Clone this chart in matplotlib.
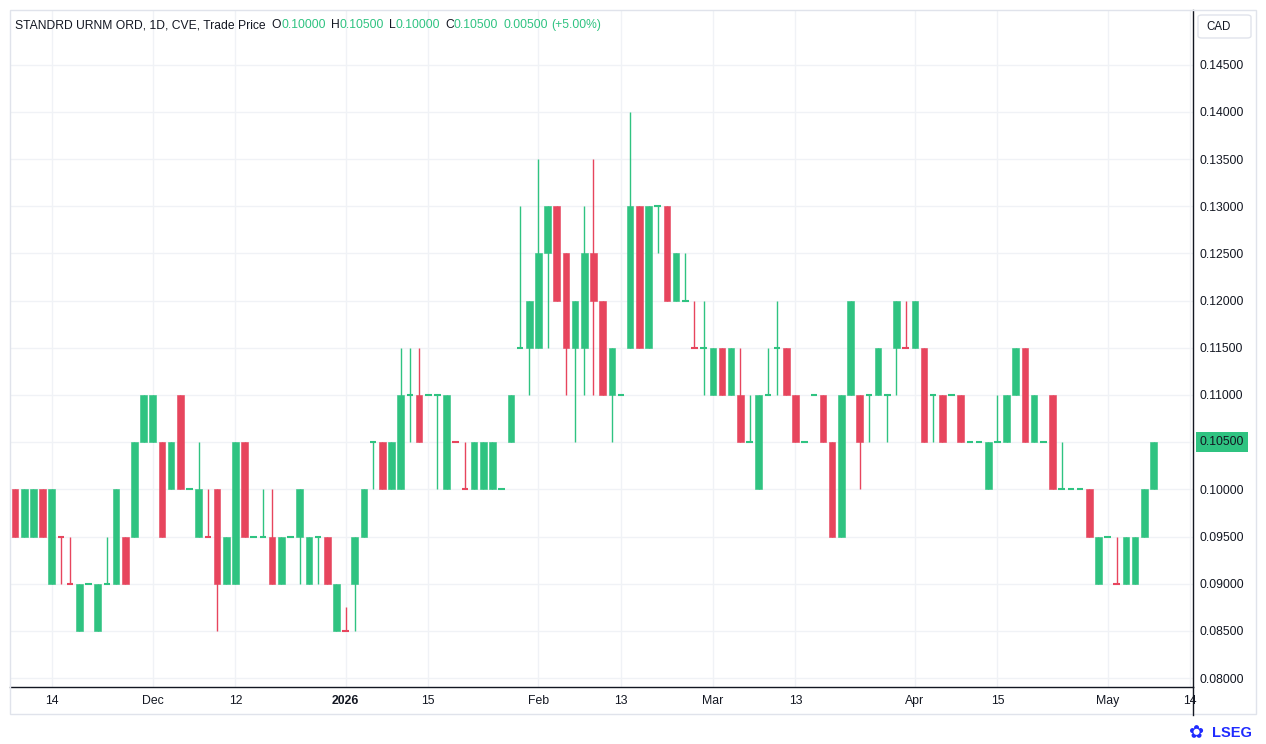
import numpy as np
import matplotlib.pyplot as plt
import matplotlib.transforms as mtransforms
from matplotlib.patches import Rectangle, FancyBboxPatch
from matplotlib.lines import Line2D

plt.rcParams['font.family'] = ['Liberation Sans', 'DejaVu Sans']

# daily OHLC, 10 Nov 2025 .. 8 May 2026 (trading days)
opens = [0.100, 0.095, 0.095, 0.100, 0.090, 0.095, 0.090, 0.085, 0.090, 0.085,
         0.090, 0.090, 0.095, 0.095, 0.105, 0.105, 0.105, 0.100, 0.110, 0.100,
         0.095, 0.095, 0.100, 0.090, 0.090, 0.105, 0.095, 0.095, 0.095, 0.090,
         0.095, 0.095, 0.090, 0.095, 0.095, 0.085, 0.085, 0.090, 0.095, 0.105,
         0.105, 0.100, 0.100, 0.110, 0.110, 0.110, 0.110, 0.100, 0.105, 0.100,
         0.100, 0.100, 0.100, 0.100, 0.105, 0.115, 0.115, 0.115, 0.125, 0.130,
         0.125, 0.115, 0.115, 0.125, 0.120, 0.110, 0.110, 0.115, 0.130, 0.115,
         0.130, 0.130, 0.120, 0.120, 0.115, 0.115, 0.110, 0.115, 0.110, 0.110,
         0.105, 0.100, 0.110, 0.115, 0.115, 0.110, 0.105, 0.110, 0.110, 0.105,
         0.095, 0.110, 0.110, 0.110, 0.110, 0.110, 0.115, 0.115, 0.115, 0.115,
         0.110, 0.110, 0.110, 0.110, 0.105, 0.105, 0.100, 0.105, 0.105, 0.110,
         0.115, 0.105, 0.105, 0.110, 0.100, 0.100, 0.100, 0.100, 0.090, 0.095,
         0.090, 0.090, 0.090, 0.095, 0.100]
highs = [0.100, 0.100, 0.100, 0.100, 0.100, 0.095, 0.095, 0.090, 0.090, 0.090,
         0.095, 0.100, 0.095, 0.105, 0.110, 0.110, 0.105, 0.105, 0.110, 0.100,
         0.105, 0.100, 0.100, 0.095, 0.105, 0.105, 0.095, 0.100, 0.100, 0.095,
         0.095, 0.100, 0.095, 0.095, 0.095, 0.090, 0.0875, 0.095, 0.100, 0.105,
         0.105, 0.105, 0.115, 0.115, 0.115, 0.110, 0.110, 0.110, 0.105, 0.105,
         0.105, 0.105, 0.105, 0.100, 0.110, 0.130, 0.120, 0.135, 0.130, 0.130,
         0.125, 0.120, 0.130, 0.135, 0.120, 0.115, 0.110, 0.140, 0.130, 0.130,
         0.130, 0.130, 0.125, 0.125, 0.120, 0.120, 0.115, 0.115, 0.115, 0.115,
         0.110, 0.110, 0.115, 0.120, 0.115, 0.110, 0.105, 0.110, 0.110, 0.105,
         0.110, 0.120, 0.110, 0.110, 0.115, 0.110, 0.120, 0.120, 0.120, 0.115,
         0.110, 0.110, 0.110, 0.110, 0.105, 0.105, 0.105, 0.110, 0.110, 0.115,
         0.115, 0.110, 0.105, 0.110, 0.105, 0.100, 0.100, 0.100, 0.095, 0.095,
         0.095, 0.095, 0.095, 0.100, 0.105]
lows = [0.095, 0.095, 0.095, 0.095, 0.090, 0.090, 0.090, 0.085, 0.090, 0.085,
        0.090, 0.090, 0.090, 0.095, 0.105, 0.105, 0.095, 0.100, 0.100, 0.100,
        0.095, 0.095, 0.085, 0.090, 0.090, 0.095, 0.095, 0.095, 0.090, 0.090,
        0.095, 0.090, 0.090, 0.090, 0.090, 0.085, 0.085, 0.085, 0.095, 0.100,
        0.100, 0.100, 0.100, 0.105, 0.105, 0.110, 0.100, 0.100, 0.105, 0.100,
        0.100, 0.100, 0.100, 0.100, 0.105, 0.115, 0.110, 0.115, 0.115, 0.120,
        0.110, 0.105, 0.110, 0.110, 0.110, 0.105, 0.110, 0.115, 0.115, 0.115,
        0.125, 0.120, 0.120, 0.120, 0.115, 0.110, 0.110, 0.110, 0.110, 0.105,
        0.105, 0.100, 0.110, 0.110, 0.110, 0.105, 0.105, 0.110, 0.105, 0.095,
        0.095, 0.110, 0.100, 0.105, 0.110, 0.105, 0.110, 0.115, 0.115, 0.105,
        0.105, 0.105, 0.110, 0.105, 0.105, 0.105, 0.100, 0.105, 0.105, 0.110,
        0.105, 0.105, 0.105, 0.100, 0.100, 0.100, 0.100, 0.095, 0.090, 0.095,
        0.090, 0.090, 0.090, 0.095, 0.100]
closes = [0.095, 0.100, 0.100, 0.095, 0.100, 0.095, 0.090, 0.090, 0.090, 0.090,
          0.090, 0.100, 0.090, 0.105, 0.110, 0.110, 0.095, 0.105, 0.100, 0.100,
          0.100, 0.095, 0.090, 0.095, 0.105, 0.095, 0.095, 0.095, 0.090, 0.095,
          0.095, 0.100, 0.095, 0.095, 0.090, 0.090, 0.085, 0.095, 0.100, 0.105,
          0.100, 0.105, 0.110, 0.110, 0.105, 0.110, 0.110, 0.110, 0.105, 0.100,
          0.105, 0.105, 0.105, 0.100, 0.110, 0.115, 0.120, 0.125, 0.130, 0.120,
          0.115, 0.120, 0.125, 0.120, 0.110, 0.115, 0.110, 0.130, 0.115, 0.130,
          0.130, 0.120, 0.125, 0.120, 0.115, 0.115, 0.115, 0.110, 0.115, 0.105,
          0.105, 0.110, 0.110, 0.115, 0.110, 0.105, 0.105, 0.110, 0.105, 0.095,
          0.110, 0.120, 0.105, 0.110, 0.115, 0.110, 0.120, 0.115, 0.120, 0.105,
          0.110, 0.105, 0.110, 0.105, 0.105, 0.105, 0.105, 0.105, 0.110, 0.115,
          0.105, 0.110, 0.105, 0.100, 0.100, 0.100, 0.100, 0.095, 0.095, 0.095,
          0.090, 0.095, 0.095, 0.100, 0.105]
# flat candles (open == close) that are drawn red
red_flat = [5, 6, 21, 36, 48, 49, 74, 97, 120]

tick_idx = [4, 15, 24, 36, 45, 57, 66, 76, 85, 98, 107, 119, 128]
tick_lab = ["14", "Dec", "12", "2026", "15", "Feb", "13", "Mar", "13",
            "Apr", "15", "May", "14"]
price_ticks = np.arange(0.080, 0.1451, 0.005)

green = '#2fc381'
red = '#e7455d'
dark = '#131722'
grid = '#f0f2f6'

W, H = 1266, 744
fig = plt.figure(figsize=(W / 100, H / 100), dpi=100)
ax = fig.add_axes([10 / W, 57 / H, 1183 / W, 677 / H])

o = np.array(opens)
hi = np.array(highs)
lo = np.array(lows)
c = np.array(closes)
x = np.arange(len(o))
up = c > o
flat = c == o
cols = np.where(up, green, red).astype(object)
for i in np.where(flat)[0]:
    cols[i] = red if i in red_flat else green

bw = 0.72
ax.vlines(x, lo, hi, colors=list(cols), linewidth=1, zorder=2)
body = ~flat
ax.bar(x[body], np.abs(c - o)[body], bottom=np.minimum(o, c)[body], width=bw,
       color=list(cols[body]), edgecolor=list(cols[body]), linewidth=0.4, zorder=3)
ax.hlines(c[flat], x[flat] - bw / 2, x[flat] + bw / 2, colors=list(cols[flat]),
          linewidth=1.5, zorder=3)

ax.set_xlim(-0.55, 128.3)
ax.set_ylim(0.07905, 0.1508)
ax.set_xticks(tick_idx)
ax.set_xticklabels(tick_lab)
ax.set_yticks(price_ticks)
# the last-price tag covers its own tick label
ax.set_yticklabels(["" if abs(v - c[-1]) < 1e-9 else f"{v:.5f}" for v in price_ticks])
ax.yaxis.tick_right()
ax.tick_params(axis='both', length=0, labelsize=8.8, colors=dark)
ax.tick_params(axis='y', pad=5)
ax.tick_params(axis='x', pad=6)
for lab in ax.get_xticklabels():
    if lab.get_text() == "2026":
        lab.set_fontweight('bold')
ax.grid(True, color=grid, linewidth=1, zorder=0)
ax.set_axisbelow(True)
for s in ['top', 'left']:
    ax.spines[s].set_visible(False)
for s in ['right', 'bottom']:
    ax.spines[s].set_color(dark)
    ax.spines[s].set_linewidth(1)

# outer frame and axis extension
fig.add_artist(Rectangle((10 / W, 30 / H), 1246 / W, 704 / H, transform=fig.transFigure,
                         fill=False, edgecolor='#e0e3eb', linewidth=1))
fig.add_artist(Line2D([1193 / W, 1193 / W], [29 / H, 57 / H], transform=fig.transFigure,
                      color=dark, linewidth=1))

# last price label
trans = mtransforms.blended_transform_factory(ax.transAxes, ax.transData)
ax.text(1 + 7 / 1183, c[-1], f"{c[-1]:.5f}", transform=trans, va='center', ha='left',
        fontsize=8.8, color=dark, clip_on=False,
        bbox=dict(boxstyle='square,pad=0.3', fc=green, ec='none'))

# currency box
fig.add_artist(FancyBboxPatch((1198 / W, 1 - 38 / H), 53 / W, 23 / H,
                              boxstyle='round,pad=0,rounding_size=0.003',
                              transform=fig.transFigure, fc='white', ec='#e0e3eb', lw=1))
fig.text(1206 / W, 1 - 27 / H, "CAD", fontsize=8.3, color=dark, va='center')

# header legend
chg = c[-1] - c[-2]
pieces = [("STANDRD URNM ORD, 1D, CVE, Trade Price", dark, 6),
          ("O", dark, 0), (f"{o[-1]:.5f}", green, 5),
          ("H", dark, 0), (f"{hi[-1]:.5f}", green, 5),
          ("L", dark, 0), (f"{lo[-1]:.5f}", green, 5),
          ("C", dark, 0), (f"{c[-1]:.5f}", green, 5),
          (f"{chg:.5f}", green, 4), (f"(+{chg / c[-2] * 100:.2f}%)", green, 0)]
renderer = fig.canvas.get_renderer()
px = 15
for txt, col, gap in pieces:
    t = fig.text(px / W, 1 - 25 / H, txt, fontsize=8.7, color=col, va='center')
    bb = t.get_window_extent(renderer)
    px += bb.width + gap

# LSEG mark
fig.text(1196 / W, 1 - 733 / H, "✿", fontsize=13, color='#1f2bff', ha='center', va='center',
         family=['DejaVu Sans'])
fig.text(1212 / W, 1 - 733 / H, "LSEG", fontsize=10.5, fontweight='bold', color='#1f2bff',
         va='center')

fig.savefig("out.png", dpi=100)
